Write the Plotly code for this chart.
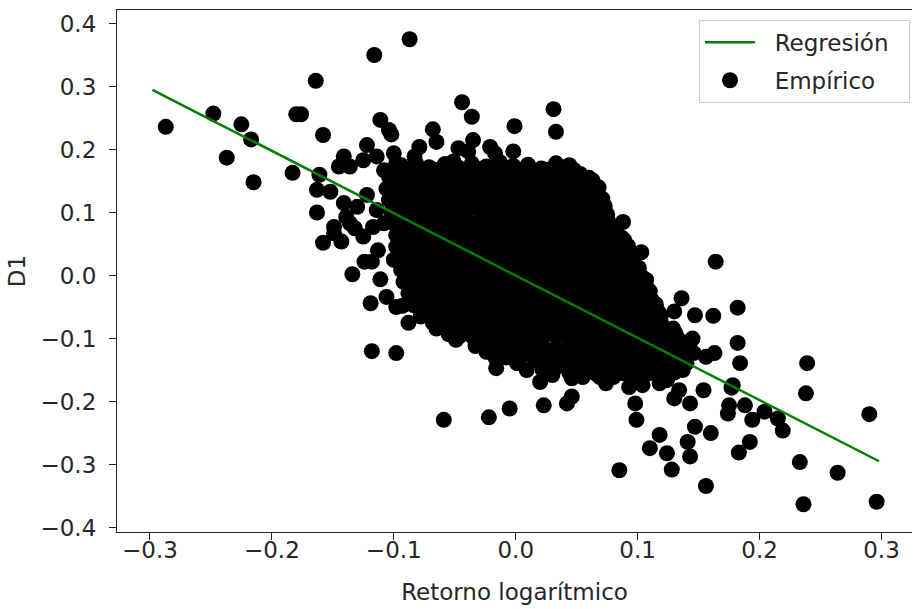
import plotly.graph_objects as go

# Puntos alejados del núcleo (retorno logarítmico, D1)
disperso_retorno = [
    -0.287, -0.248, -0.225, -0.217, -0.237, -0.215, -0.183, -0.180, -0.176, -0.164, -0.158, -0.116, -0.087,
    -0.161, -0.163, -0.152, -0.163, -0.122, -0.111, -0.104, -0.102, -0.141, -0.145, -0.136, -0.125, -0.122,
    -0.141, -0.130, -0.149, -0.136, -0.114, -0.103, -0.108, -0.100,
    -0.139, -0.149, -0.158, -0.143, -0.132, -0.125, -0.117, -0.108, -0.113, -0.124, -0.118, -0.134, -0.111,
    -0.106, -0.119, -0.100, -0.098, -0.118, -0.098,
    -0.044, -0.036, 0.031, 0.033, -0.001, -0.002, -0.068, -0.065, -0.079, -0.083, -0.035, -0.039, -0.047,
    -0.021, -0.017, -0.027, -0.051, 0.042, 0.051, 0.028, 0.003, -0.114, -0.098, -0.073, -0.087,
    0.088, 0.074, 0.103, 0.083, 0.164, 0.099, 0.104, 0.091, 0.136, 0.130, 0.113, 0.147, 0.162, 0.182,
    0.115, 0.129, 0.145, 0.182, 0.163, 0.156, 0.184, 0.239, 0.143, 0.137, 0.178, 0.238, 0.154, 0.124,
    0.096, 0.110, 0.080, 0.290, 0.177, 0.143, 0.130, 0.134, 0.098, 0.099, 0.118, 0.110, 0.124, 0.128,
    0.085, 0.147, 0.160, 0.141, 0.143, 0.156, 0.175, 0.174, 0.188, 0.194, 0.204, 0.215, 0.219, 0.192,
    0.183, 0.233, 0.264, 0.236, 0.296, 0.074, 0.093, 0.118,
    -0.093, -0.088, -0.064, -0.046, -0.017, -0.016, -0.002, 0.009, 0.020, 0.046, 0.046, 0.042, 0.023,
    -0.005, -0.022, -0.059, 0.069, 0.104, 0.113,
]
disperso_d1 = [
    0.236, 0.257, 0.240, 0.216, 0.187, 0.148, 0.163, 0.256, 0.256, 0.309, 0.223, 0.350, 0.375,
    0.160, 0.136, 0.133, 0.100, 0.207, 0.247, 0.231, 0.224, 0.189, 0.173, 0.173, 0.183, 0.128,
    0.115, 0.109, 0.077, 0.083, 0.104, 0.088, 0.167, 0.194,
    0.093, 0.067, 0.052, 0.054, 0.075, 0.062, 0.077, 0.083, 0.040, 0.022, 0.022, 0.002, -0.006,
    -0.034, -0.044, 0.025, -0.050, -0.120, -0.123,
    0.275, 0.252, 0.264, 0.228, 0.237, 0.197, 0.232, 0.212, 0.204, 0.189, 0.215, 0.197, 0.202,
    0.204, 0.194, 0.170, 0.181, 0.173, 0.154, 0.165, 0.154, 0.189, 0.178, 0.167, 0.162,
    0.085, 0.070, 0.037, 0.035, 0.022, 0.006, -0.007, -0.002, -0.036, -0.057, -0.044, -0.063, -0.064, -0.051,
    -0.084, -0.084, -0.100, -0.107, -0.123, -0.129, -0.139, -0.139, -0.118, -0.150, -0.174, -0.187, -0.182, -0.166,
    -0.169, -0.155, -0.161, -0.220, -0.178, -0.203, -0.195, -0.182, -0.203, -0.229, -0.253, -0.274, -0.282, -0.308,
    -0.309, -0.240, -0.250, -0.264, -0.287, -0.334, -0.206, -0.219, -0.206, -0.229, -0.216, -0.227, -0.246, -0.264,
    -0.281, -0.296, -0.313, -0.363, -0.359, -0.171, -0.177, -0.171,
    -0.048, -0.075, -0.079, -0.096, -0.129, -0.147, -0.131, -0.150, -0.169, -0.163, -0.192, -0.203, -0.206,
    -0.211, -0.225, -0.229, -0.161, -0.174, -0.065,
]

# Núcleo denso de observaciones, por franjas de D1
nucleo_retorno = [
    -0.094, -0.082, -0.071, -0.058, -0.047, -0.036, -0.024, -0.013, -0.002, 0.010, 0.021, 0.033, 0.044,
    -0.104, -0.092, -0.080, -0.069, -0.058, -0.046, -0.035, -0.024, -0.013, -0.001, 0.009, 0.020, 0.031, 0.042, 0.053, 0.060,
    -0.106, -0.097, -0.086, -0.075, -0.063, -0.052, -0.041, -0.030, -0.019, -0.008, 0.004, 0.015, 0.026, 0.037, 0.048, 0.059, 0.068,
    -0.104, -0.092, -0.080, -0.069, -0.058, -0.047, -0.035, -0.024, -0.013, -0.002, 0.009, 0.021, 0.032, 0.043, 0.054, 0.064, 0.071,
    -0.102, -0.097, -0.086, -0.074, -0.063, -0.052, -0.041, -0.030, -0.018, -0.007, 0.004, 0.015, 0.026, 0.038, 0.049, 0.060, 0.070, 0.075,
    -0.100, -0.091, -0.080, -0.069, -0.057, -0.046, -0.035, -0.024, -0.013, -0.001, 0.010, 0.021, 0.032, 0.043, 0.055, 0.066, 0.076,
    -0.098, -0.086, -0.075, -0.063, -0.052, -0.041, -0.030, -0.018, -0.007, 0.004, 0.015, 0.027, 0.038, 0.049, 0.060, 0.071, 0.081, 0.087,
    -0.098, -0.091, -0.080, -0.069, -0.058, -0.046, -0.035, -0.024, -0.013, -0.002, 0.010, 0.021, 0.032, 0.043, 0.054, 0.065, 0.076, 0.086, 0.092,
    -0.096, -0.085, -0.074, -0.063, -0.052, -0.040, -0.029, -0.018, -0.007, 0.004, 0.016, 0.027, 0.038, 0.049, 0.060, 0.071, 0.082, 0.092, 0.097,
    -0.094, -0.090, -0.079, -0.068, -0.057, -0.046, -0.035, -0.023, -0.012, -0.001, 0.010, 0.021, 0.033, 0.044, 0.055, 0.066, 0.077, 0.088, 0.097, 0.101,
    -0.092, -0.084, -0.073, -0.062, -0.051, -0.040, -0.029, -0.018, -0.006, 0.005, 0.016, 0.027, 0.038, 0.050, 0.061, 0.072, 0.083, 0.094, 0.104, 0.107,
    -0.088, -0.079, -0.068, -0.057, -0.046, -0.035, -0.023, -0.012, -0.001, 0.010, 0.021, 0.033, 0.044, 0.055, 0.066, 0.077, 0.088, 0.099, 0.108, 0.110,
    -0.084, -0.073, -0.062, -0.051, -0.040, -0.029, -0.018, -0.006, 0.005, 0.016, 0.027, 0.038, 0.050, 0.061, 0.072, 0.083, 0.094, 0.105, 0.115,
    -0.078, -0.068, -0.057, -0.046, -0.035, -0.023, -0.012, -0.001, 0.010, 0.021, 0.033, 0.044, 0.055, 0.066, 0.077, 0.088, 0.099, 0.110, 0.119,
    -0.065, -0.052, -0.040, -0.029, -0.018, -0.006, 0.005, 0.016, 0.027, 0.038, 0.050, 0.061, 0.072, 0.083, 0.094, 0.105, 0.116, 0.126,
    -0.049, -0.035, -0.023, -0.012, -0.001, 0.010, 0.021, 0.033, 0.044, 0.055, 0.066, 0.077, 0.088, 0.099, 0.110, 0.121, 0.133, 0.141,
    -0.024, -0.012, 0.000, 0.010, 0.021, 0.033, 0.044, 0.055, 0.066, 0.077, 0.088, 0.099, 0.110, 0.122, 0.134, 0.146,
    0.001, 0.016, 0.027, 0.038, 0.050, 0.061, 0.072, 0.083, 0.094, 0.105, 0.116, 0.128, 0.140,
    0.030, 0.044, 0.055, 0.066, 0.077, 0.088, 0.099, 0.110, 0.118,
]
nucleo_d1 = [
    0.175, 0.179, 0.172, 0.177, 0.171, 0.178, 0.173, 0.180, 0.174, 0.176, 0.170, 0.178, 0.175,
    0.157, 0.161, 0.154, 0.159, 0.153, 0.160, 0.155, 0.162, 0.156, 0.158, 0.152, 0.160, 0.157, 0.154, 0.161, 0.155,
    0.138, 0.142, 0.135, 0.140, 0.134, 0.141, 0.136, 0.143, 0.137, 0.139, 0.133, 0.141, 0.138, 0.135, 0.142, 0.136, 0.140,
    0.120, 0.124, 0.117, 0.122, 0.116, 0.123, 0.118, 0.125, 0.119, 0.121, 0.115, 0.123, 0.120, 0.117, 0.124, 0.118, 0.122,
    0.101, 0.105, 0.098, 0.103, 0.097, 0.104, 0.099, 0.106, 0.100, 0.102, 0.096, 0.104, 0.101, 0.098, 0.105, 0.099, 0.103, 0.097,
    0.083, 0.087, 0.080, 0.085, 0.079, 0.086, 0.081, 0.088, 0.082, 0.084, 0.078, 0.086, 0.083, 0.080, 0.087, 0.081, 0.085,
    0.064, 0.068, 0.061, 0.066, 0.060, 0.067, 0.062, 0.069, 0.063, 0.065, 0.059, 0.067, 0.064, 0.061, 0.068, 0.062, 0.066, 0.060,
    0.046, 0.050, 0.043, 0.048, 0.042, 0.049, 0.044, 0.051, 0.045, 0.047, 0.041, 0.049, 0.046, 0.043, 0.050, 0.044, 0.048, 0.042, 0.047,
    0.027, 0.031, 0.024, 0.029, 0.023, 0.030, 0.025, 0.032, 0.026, 0.028, 0.022, 0.030, 0.027, 0.024, 0.031, 0.025, 0.029, 0.023, 0.028,
    0.009, 0.013, 0.006, 0.011, 0.005, 0.012, 0.007, 0.014, 0.008, 0.010, 0.004, 0.012, 0.009, 0.006, 0.013, 0.007, 0.011, 0.005, 0.010, 0.012,
    -0.010, -0.006, -0.013, -0.008, -0.014, -0.007, -0.012, -0.005, -0.011, -0.009, -0.015, -0.007, -0.010, -0.013, -0.006, -0.012, -0.008, -0.014, -0.009, -0.007,
    -0.028, -0.024, -0.031, -0.026, -0.032, -0.025, -0.030, -0.023, -0.029, -0.027, -0.033, -0.025, -0.028, -0.031, -0.024, -0.030, -0.026, -0.032, -0.027, -0.025,
    -0.047, -0.043, -0.050, -0.045, -0.051, -0.044, -0.049, -0.042, -0.048, -0.046, -0.052, -0.044, -0.047, -0.050, -0.043, -0.049, -0.045, -0.051, -0.046,
    -0.065, -0.061, -0.068, -0.063, -0.069, -0.062, -0.067, -0.060, -0.066, -0.064, -0.070, -0.062, -0.065, -0.068, -0.061, -0.067, -0.063, -0.069, -0.064,
    -0.084, -0.080, -0.087, -0.082, -0.088, -0.081, -0.086, -0.079, -0.085, -0.083, -0.089, -0.081, -0.084, -0.087, -0.080, -0.086, -0.082, -0.088,
    -0.102, -0.098, -0.105, -0.100, -0.106, -0.099, -0.104, -0.097, -0.103, -0.101, -0.107, -0.099, -0.102, -0.105, -0.098, -0.104, -0.100, -0.106,
    -0.121, -0.117, -0.124, -0.119, -0.125, -0.118, -0.123, -0.116, -0.122, -0.120, -0.126, -0.118, -0.121, -0.124, -0.117, -0.123,
    -0.139, -0.135, -0.142, -0.137, -0.143, -0.136, -0.141, -0.134, -0.140, -0.138, -0.144, -0.136, -0.139,
    -0.158, -0.154, -0.161, -0.156, -0.162, -0.155, -0.160, -0.153, -0.159,
]

# Observaciones intercaladas entre las franjas del núcleo
intermedio_retorno = [
    -0.098, -0.087, -0.076, -0.064, -0.052, -0.041, -0.030, -0.019, -0.007, 0.004, 0.015, 0.026, 0.037, 0.048,
    -0.101, -0.091, -0.080, -0.069, -0.058, -0.046, -0.035, -0.024, -0.013, -0.002, 0.009, 0.020, 0.031, 0.042, 0.053, 0.063,
    -0.100, -0.089, -0.078, -0.066, -0.055, -0.044, -0.033, -0.022, -0.011, 0.001, 0.012, 0.023, 0.034, 0.045, 0.056, 0.066,
    -0.099, -0.088, -0.077, -0.066, -0.055, -0.044, -0.032, -0.021, -0.010, 0.001, 0.012, 0.023, 0.034, 0.045, 0.056, 0.066, 0.073,
    -0.096, -0.085, -0.074, -0.063, -0.052, -0.041, -0.029, -0.018, -0.007, 0.004, 0.015, 0.026, 0.037, 0.049, 0.060, 0.071,
    -0.094, -0.083, -0.072, -0.061, -0.050, -0.039, -0.027, -0.016, -0.005, 0.006, 0.017, 0.028, 0.040, 0.051, 0.062, 0.073, 0.082,
    -0.093, -0.082, -0.071, -0.060, -0.049, -0.038, -0.027, -0.016, -0.004, 0.007, 0.018, 0.029, 0.040, 0.051, 0.062, 0.073, 0.083, 0.089,
    -0.091, -0.080, -0.069, -0.058, -0.047, -0.036, -0.025, -0.013, -0.002, 0.009, 0.020, 0.031, 0.042, 0.053, 0.065, 0.076, 0.087, 0.094,
    -0.090, -0.079, -0.068, -0.057, -0.046, -0.035, -0.024, -0.013, -0.002, 0.010, 0.021, 0.032, 0.043, 0.054, 0.065, 0.076, 0.087, 0.096,
    -0.088, -0.077, -0.066, -0.055, -0.044, -0.033, -0.022, -0.011, 0.000, 0.011, 0.022, 0.033, 0.044, 0.055, 0.066, 0.077, 0.088, 0.099, 0.104,
    -0.085, -0.074, -0.063, -0.052, -0.041, -0.030, -0.019, -0.008, 0.003, 0.014, 0.025, 0.036, 0.047, 0.058, 0.069, 0.080, 0.091, 0.102, 0.108,
    -0.081, -0.070, -0.059, -0.048, -0.037, -0.026, -0.015, -0.004, 0.007, 0.018, 0.029, 0.040, 0.051, 0.062, 0.073, 0.084, 0.095, 0.106, 0.112,
    -0.076, -0.065, -0.054, -0.043, -0.032, -0.021, -0.010, 0.001, 0.012, 0.023, 0.034, 0.045, 0.056, 0.067, 0.078, 0.089, 0.100, 0.111, 0.117,
    -0.068, -0.057, -0.046, -0.035, -0.024, -0.013, -0.002, 0.009, 0.020, 0.031, 0.042, 0.053, 0.064, 0.075, 0.086, 0.097, 0.108, 0.119,
    -0.055, -0.044, -0.033, -0.022, -0.011, 0.000, 0.011, 0.022, 0.033, 0.044, 0.055, 0.066, 0.077, 0.088, 0.099, 0.110, 0.121, 0.131,
    -0.033, -0.022, -0.011, 0.000, 0.011, 0.022, 0.033, 0.044, 0.055, 0.066, 0.077, 0.088, 0.099, 0.110, 0.121, 0.132, 0.142,
    -0.008, 0.005, 0.016, 0.027, 0.038, 0.049, 0.060, 0.071, 0.082, 0.093, 0.104, 0.115, 0.127, 0.139,
    0.022, 0.033, 0.044, 0.055, 0.066, 0.077, 0.088, 0.099, 0.110, 0.121, 0.130,
]
intermedio_d1 = [
    0.166, 0.169, 0.163, 0.168, 0.164, 0.167, 0.162, 0.170, 0.165, 0.166, 0.161, 0.168, 0.164, 0.167,
    0.148, 0.151, 0.145, 0.150, 0.146, 0.149, 0.144, 0.152, 0.147, 0.148, 0.143, 0.150, 0.146, 0.149, 0.145, 0.151,
    0.129, 0.132, 0.126, 0.131, 0.127, 0.130, 0.125, 0.133, 0.128, 0.129, 0.124, 0.131, 0.127, 0.130, 0.126, 0.132,
    0.111, 0.114, 0.108, 0.113, 0.109, 0.112, 0.107, 0.115, 0.110, 0.111, 0.106, 0.113, 0.109, 0.112, 0.108, 0.114, 0.110,
    0.092, 0.095, 0.089, 0.094, 0.090, 0.093, 0.088, 0.096, 0.091, 0.092, 0.087, 0.094, 0.090, 0.093, 0.089, 0.095,
    0.074, 0.077, 0.071, 0.076, 0.072, 0.075, 0.070, 0.078, 0.073, 0.074, 0.069, 0.076, 0.072, 0.075, 0.071, 0.077, 0.073,
    0.055, 0.058, 0.052, 0.057, 0.053, 0.056, 0.051, 0.059, 0.054, 0.055, 0.050, 0.057, 0.053, 0.056, 0.052, 0.058, 0.054, 0.056,
    0.037, 0.040, 0.034, 0.039, 0.035, 0.038, 0.033, 0.041, 0.036, 0.037, 0.032, 0.039, 0.035, 0.038, 0.034, 0.040, 0.036, 0.038,
    0.018, 0.021, 0.015, 0.020, 0.016, 0.019, 0.014, 0.022, 0.017, 0.018, 0.013, 0.020, 0.016, 0.019, 0.015, 0.021, 0.017, 0.019,
    -0.001, 0.002, -0.004, 0.001, -0.003, 0.000, -0.005, 0.003, -0.002, -0.001, -0.006, 0.001, -0.003, 0.000, -0.004, 0.002, -0.002, 0.000, -0.003,
    -0.019, -0.016, -0.022, -0.017, -0.021, -0.018, -0.023, -0.015, -0.020, -0.019, -0.024, -0.017, -0.021, -0.018, -0.022, -0.016, -0.020, -0.018, -0.021,
    -0.038, -0.035, -0.041, -0.036, -0.040, -0.037, -0.042, -0.034, -0.039, -0.038, -0.043, -0.036, -0.040, -0.037, -0.041, -0.035, -0.039, -0.037, -0.040,
    -0.056, -0.053, -0.059, -0.054, -0.058, -0.055, -0.060, -0.052, -0.057, -0.056, -0.061, -0.054, -0.058, -0.055, -0.059, -0.053, -0.057, -0.055, -0.058,
    -0.075, -0.072, -0.078, -0.073, -0.077, -0.074, -0.079, -0.071, -0.076, -0.075, -0.080, -0.073, -0.077, -0.074, -0.078, -0.072, -0.076, -0.074,
    -0.093, -0.090, -0.096, -0.091, -0.095, -0.092, -0.097, -0.089, -0.094, -0.093, -0.098, -0.091, -0.095, -0.092, -0.096, -0.090, -0.094, -0.092,
    -0.112, -0.109, -0.115, -0.110, -0.114, -0.111, -0.116, -0.108, -0.113, -0.112, -0.117, -0.110, -0.114, -0.111, -0.115, -0.109, -0.113,
    -0.130, -0.127, -0.133, -0.128, -0.132, -0.129, -0.134, -0.126, -0.131, -0.130, -0.135, -0.128, -0.132, -0.129,
    -0.149, -0.146, -0.152, -0.147, -0.151, -0.148, -0.153, -0.145, -0.150, -0.149, -0.154,
]

# Recta de regresión ajustada
pendiente = -0.989
intercepto = 0.0
recta_retorno = [-0.298, 0.298]

x_ticks = [-0.3, -0.2, -0.1, 0.0, 0.1, 0.2, 0.3]
x_ticktext = ["−0.3", "−0.2", "−0.1", "0.0", "0.1", "0.2", "0.3"]
y_ticks = [-0.4, -0.3, -0.2, -0.1, 0.0, 0.1, 0.2, 0.3, 0.4]
y_ticktext = ["−0.4", "−0.3", "−0.2", "−0.1", "0.0", "0.1", "0.2", "0.3", "0.4"]

retorno = disperso_retorno + nucleo_retorno + intermedio_retorno
d1 = disperso_d1 + nucleo_d1 + intermedio_d1
recta_d1 = [intercepto + pendiente * x for x in recta_retorno]

FONT = "DejaVu Sans"
SIZE = 23
EJE = "#262626"
ESP = "\u00a0\u00a0"  # separación entre el símbolo y el texto de la leyenda

fig = go.Figure()
fig.add_trace(go.Scatter(
    x=retorno, y=d1, mode="markers", name=ESP + "Empírico" + ESP,
    legendgroup="emp", legendrank=2,
    marker=dict(color="black", size=16, line=dict(width=0)),
))
fig.add_trace(go.Scatter(
    x=recta_retorno, y=recta_d1, mode="lines", name=ESP + "Regresión" + ESP,
    legendgroup="reg", legendrank=1,
    line=dict(color="#008000", width=2.5),
))

eje_comun = dict(
    showgrid=False, zeroline=False, showline=True, linecolor=EJE, linewidth=1.2,
    ticks="outside", ticklen=7, tickwidth=1.2, tickcolor=EJE,
    tickfont=dict(family=FONT, size=SIZE, color=EJE),
)

fig.update_layout(
    width=913, height=609,
    margin=dict(l=117, r=1, t=10, b=77),
    paper_bgcolor="white", plot_bgcolor="white",
    showlegend=True,
    legend=dict(
        x=0.9975, y=0.981, xanchor="right", yanchor="top",
        traceorder="grouped", tracegroupgap=5, itemwidth=50,
        bgcolor="rgba(255,255,255,0.8)", bordercolor="#cccccc", borderwidth=1,
        font=dict(family=FONT, size=SIZE, color=EJE),
    ),
    xaxis=dict(
        range=[-0.327, 0.325], tickvals=x_ticks, ticktext=x_ticktext, mirror=True,
        ticklabelstandoff=-10,
        title=dict(text="Retorno logarítmico", font=dict(family=FONT, size=SIZE, color=EJE), standoff=22),
        **eje_comun,
    ),
    yaxis=dict(
        range=[-0.407, 0.4214], tickvals=y_ticks, ticktext=y_ticktext, mirror=False,
        ticklabelstandoff=8,
        title=dict(text="D1", font=dict(family=FONT, size=SIZE, color=EJE), standoff=8),
        **eje_comun,
    ),
)

fig.write_html("out.html")
